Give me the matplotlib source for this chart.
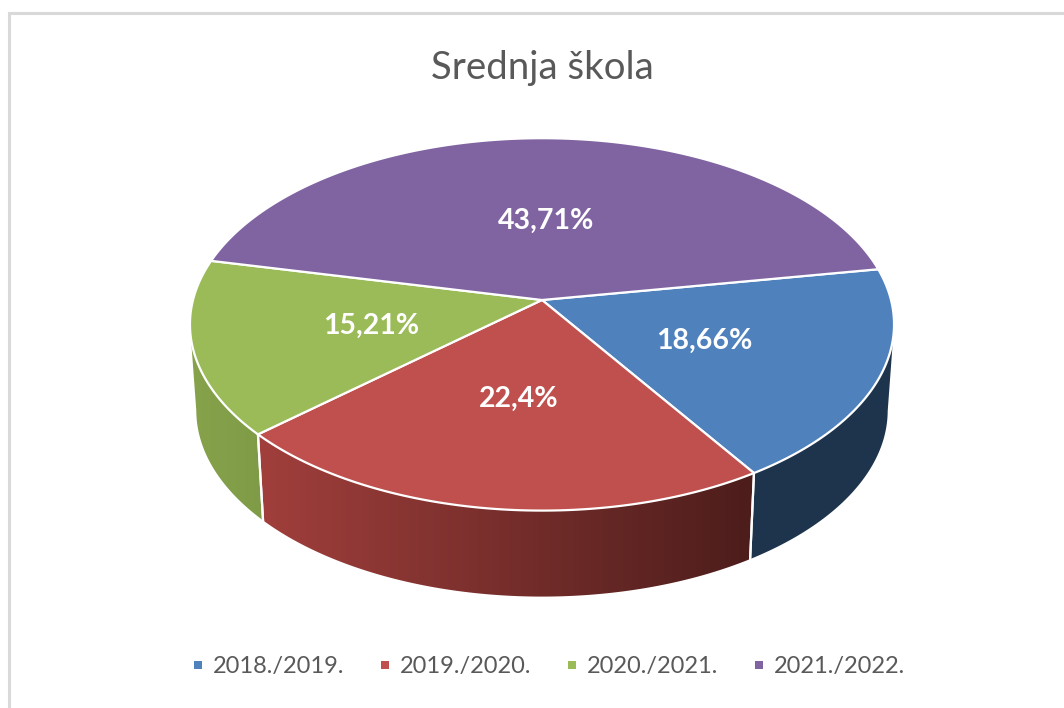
"""Perspective 3D pie chart: Srednja skola enrolment share by school year."""

import matplotlib

matplotlib.use("Agg")
import matplotlib.pyplot as plt
import numpy as np
from matplotlib.colors import to_rgb
from matplotlib.lines import Line2D
from matplotlib.patches import Polygon

# Chart data
years = ["2018./2019.", "2019./2020.", "2020./2021.", "2021./2022."]
shares = [18.66, 22.4, 15.21, 43.71]
labels = ["18,66%", "22,4%", "15,21%", "43,71%"]

# Slice colours: top face, then wall gradient from left to right
top_colors = ["#4f81bd", "#c0504d", "#9bbb59", "#8064a2"]
wall_left = ["#1e344d", "#a13f3c", "#86a34b", "#5f4a7a"]
wall_right = ["#1e344d", "#4c1d1b", "#7f9b47", "#5f4a7a"]

# Where the data labels sit (pixels)
label_pos = [(704, 341), (519, 399), (371, 326), (546, 221)]

# Projection of the disc: apex position, radii, perspective, wall height
CX, CY = 542, 300
RX, RY = 349, 183
PERSP = 0.131
DEPTH = 86
BOTTOM_SCALE = 0.982
START_ANGLE = 9.9


def project(angle_deg):
    t = np.radians(angle_deg)
    w = 1 + PERSP * np.sin(t)
    return CX + RX * np.cos(t) / w, CY - RY * np.sin(t) / w


def project_bottom(angle_deg):
    x, y = project(angle_deg)
    return CX + (x - CX) * BOTTOM_SCALE, y + DEPTH


plt.rcParams["font.family"] = ["Lato", "DejaVu Sans"]

fig = plt.figure(figsize=(10.64, 7.08), dpi=100)
ax = fig.add_axes([0, 0, 1, 1])
ax.axis("off")

# Light grey frame, open at the right and bottom
ax.plot([8.5, 8.5, 1064], [708, 12.5, 12.5], color="#d9d9d9", lw=2.2, solid_joinstyle="miter")

ax.text(542, 68, "Srednja škola", ha="center", va="center", fontsize=27.6, color="#595959")

# Slice boundaries going clockwise from the start angle
fractions = np.array(shares) / np.sum(shares)
bounds = START_ANGLE - 360 * np.concatenate(([0], np.cumsum(fractions)))

# Walls: only the part of each slice that faces the viewer, gradient clipped to it
for i in range(len(shares)):
    angles = np.linspace(bounds[i], bounds[i + 1], 241)
    angles = angles[np.sin(np.radians(angles)) <= -PERSP]
    if len(angles) < 2:
        continue
    top_x, top_y = project(angles)
    bot_x, bot_y = project_bottom(angles)
    poly_x = np.concatenate((top_x, bot_x[::-1]))
    poly_y = np.concatenate((top_y, bot_y[::-1]))
    c_left = np.array(to_rgb(wall_left[i]))
    c_right = np.array(to_rgb(wall_right[i]))
    ramp = np.linspace(0, 1, 256)[:, None]
    gradient = (c_left + (c_right - c_left) * ramp)[None, :, :]
    image = ax.imshow(
        gradient,
        extent=(poly_x.min(), poly_x.max(), poly_y.max(), poly_y.min()),
        aspect="auto",
        interpolation="bilinear",
        zorder=2,
    )
    clip = Polygon(np.column_stack((poly_x, poly_y)), closed=True, transform=ax.transData)
    image.set_clip_path(clip)
    # white seams at the slice ends that are visible
    for a in bounds[i : i + 2]:
        if np.sin(np.radians(a)) <= -PERSP:
            x0, y0 = project(a)
            x3, y3 = project_bottom(a)
            ax.plot([x0, x3], [y0, y3], color="white", lw=1.6, zorder=3)

ax.set_xlim(0, 1064)
ax.set_ylim(708, 0)
ax.set_aspect("auto")

# Top faces
for i in range(len(shares)):
    angles = np.linspace(bounds[i], bounds[i + 1], 200)
    xs, ys = project(angles)
    ax.fill(
        np.concatenate(([CX], xs)),
        np.concatenate(([CY], ys)),
        facecolor=top_colors[i],
        edgecolor="white",
        lw=1.6,
        joinstyle="round",
        zorder=4,
    )

for text, (x, y) in zip(labels, label_pos):
    ax.text(x, y, text, ha="center", va="center", fontsize=20.5, fontweight="bold", color="white", zorder=5)

handles = [
    Line2D([], [], linestyle="none", marker="s", markersize=5.5, markeredgewidth=0, color=c, label=y)
    for c, y in zip(top_colors, years)
]
ax.legend(
    handles=handles,
    ncol=4,
    loc="center",
    bbox_to_anchor=(548, 667),
    bbox_transform=ax.transData,
    frameon=False,
    fontsize=17,
    labelcolor="#595959",
    handlelength=0.6,
    handletextpad=0.33,
    columnspacing=1.41,
)

fig.savefig("out.png", dpi=100)
